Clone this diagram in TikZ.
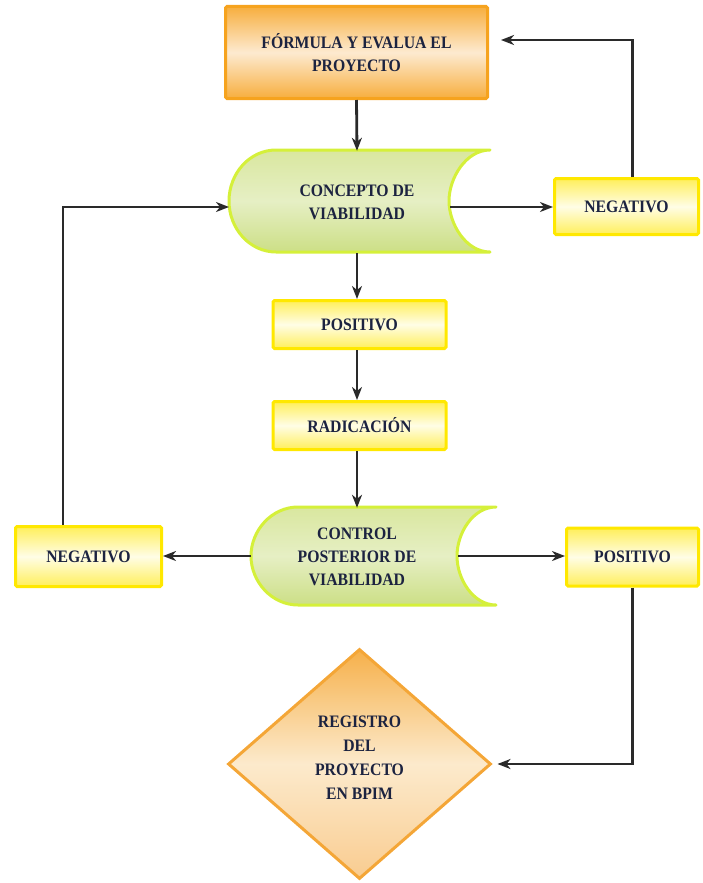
\documentclass[tikz,border=0pt]{standalone}
\usepackage{fontspec}
\newfontfamily\labelfont[FakeStretch=0.9]{Liberation Serif}
\usetikzlibrary{arrows.meta,calc,shapes.geometric}

\definecolor{ink}{HTML}{1C2340}
\definecolor{linegray}{HTML}{2A2A2A}
\definecolor{ybord}{HTML}{FFE800}
\definecolor{yedge}{HTML}{FFEF5A}
\definecolor{ymid}{HTML}{FFFDE6}
\definecolor{obord}{HTML}{F6A31E}
\definecolor{oedge}{HTML}{F7AE3E}
\definecolor{omid}{HTML}{FDEAD0}
\definecolor{gbord}{HTML}{D5F03A}
\definecolor{gtop}{HTML}{D9E79F}
\definecolor{gmid}{HTML}{E6EFC4}
\definecolor{gbot}{HTML}{CCDF86}
\definecolor{dbord}{HTML}{F4A637}
\definecolor{dtop}{HTML}{F6B04A}
\definecolor{dmid}{HTML}{FCEACC}
\definecolor{dbot}{HTML}{F9CC90}

\begin{document}
\begin{tikzpicture}[x=1pt,y=-1pt,
  lbl/.style={font=\labelfont\bfseries\fontsize{17.5}{23}\selectfont,
    text=ink, align=center, inner sep=0pt},
  yellowbox/.style={lbl, draw=ybord, line width=3pt, rounded corners=1.5pt,
    top color=yedge, bottom color=yedge, middle color=ymid},
  orangebox/.style={lbl, draw=obord, line width=3pt, rounded corners=1.5pt,
    top color=oedge, bottom color=oedge, middle color=omid},
  greenshape/.style={draw=gbord, line width=3pt, line join=round,
    top color=gtop, bottom color=gbot, middle color=gmid},
  diamondbox/.style={shape=diamond, draw=dbord, line width=3pt,
    top color=dtop, bottom color=dbot, middle color=dmid},
  link/.style={draw=linegray, line width=2.8pt,
    -{Stealth[length=13pt,width=10pt,inset=4pt]}}]

\useasboundingbox (0,0) rectangle (702,883);

% green "stored data" shapes: rounded left end, concave right end
\path[greenshape] (276,150) -- (490,150)
  .. controls (466,150) and (449,178) .. (449,201)
  .. controls (449,224) and (466,252) .. (490,252)
  -- (276,252)
  .. controls (250,252) and (229,229) .. (229,201)
  .. controls (229,173) and (250,150) .. (276,150) -- cycle;
\path[greenshape] (298,507) -- (496,507)
  .. controls (473,507) and (457,533) .. (457,556)
  .. controls (457,579) and (473,605) .. (496,605)
  -- (298,605)
  .. controls (272,605) and (251,582) .. (251,556)
  .. controls (251,530) and (272,507) .. (298,507) -- cycle;

% nodes
\node[orangebox, minimum width=262, minimum height=92] (top) at (356.5,52.5)
  {FÓRMULA Y EVALUA EL\\PROYECTO};
\node[lbl, minimum width=262, minimum height=102] (cv) at (357,202)
  {CONCEPTO DE\\VIABILIDAD};
\node[yellowbox, minimum width=144, minimum height=56] (negR) at (626.5,206.5)
  {NEGATIVO};
\node[yellowbox, minimum width=173, minimum height=48] (posM) at (359.5,324.5)
  {POSITIVO};
\node[yellowbox, minimum width=173, minimum height=48] (rad) at (359.5,425.5)
  {RADICACIÓN};
\node[lbl, minimum width=246, minimum height=98] (ct) at (357,557)
  {CONTROL\\POSTERIOR DE\\VIABILIDAD};
\node[yellowbox, minimum width=146, minimum height=60] (negL) at (88.5,556.5)
  {NEGATIVO};
\node[yellowbox, minimum width=132, minimum height=58] (posR) at (632.5,557)
  {POSITIVO};
\node[diamondbox, minimum width=263, minimum height=230] (dia) at (359.5,764) {};
\node[lbl, font=\labelfont\bfseries\fontsize{17.5}{24}\selectfont] (diaT) at (359.5,758)
  {REGISTRO\\DEL\\PROYECTO\\EN BPIM};

% connector ends on the curved outlines
\coordinate (cvL) at (229,207);
\coordinate (cvR) at (450,207);
\coordinate (ctL) at (251,556);
\coordinate (ctR) at (458,556);

% connectors
\draw[link] (top.south) -- (cv.north);
\draw[link] (cv.south) -- (posM.north -| cv.south);
\draw[link] (posM.south -| cv.south) -- (rad.north -| cv.south);
\draw[link] (rad.south -| cv.south) -- (ct.north);
\draw[link] (cvR) -- (negR.west |- cvR);
\draw[link] ([xshift=6pt]negR.north) |- ([xshift=12pt,yshift=12.5pt]top.east);
\draw[link] ([xshift=-25.5pt]negL.north) |- (cvL);
\draw[link] (ctL) -- (negL.east |- ctL);
\draw[link] (ctR) -- (posR.west |- ctR);
\draw[link] (posR.south) |- ([xshift=5pt]dia.east);

\end{tikzpicture}
\end{document}
